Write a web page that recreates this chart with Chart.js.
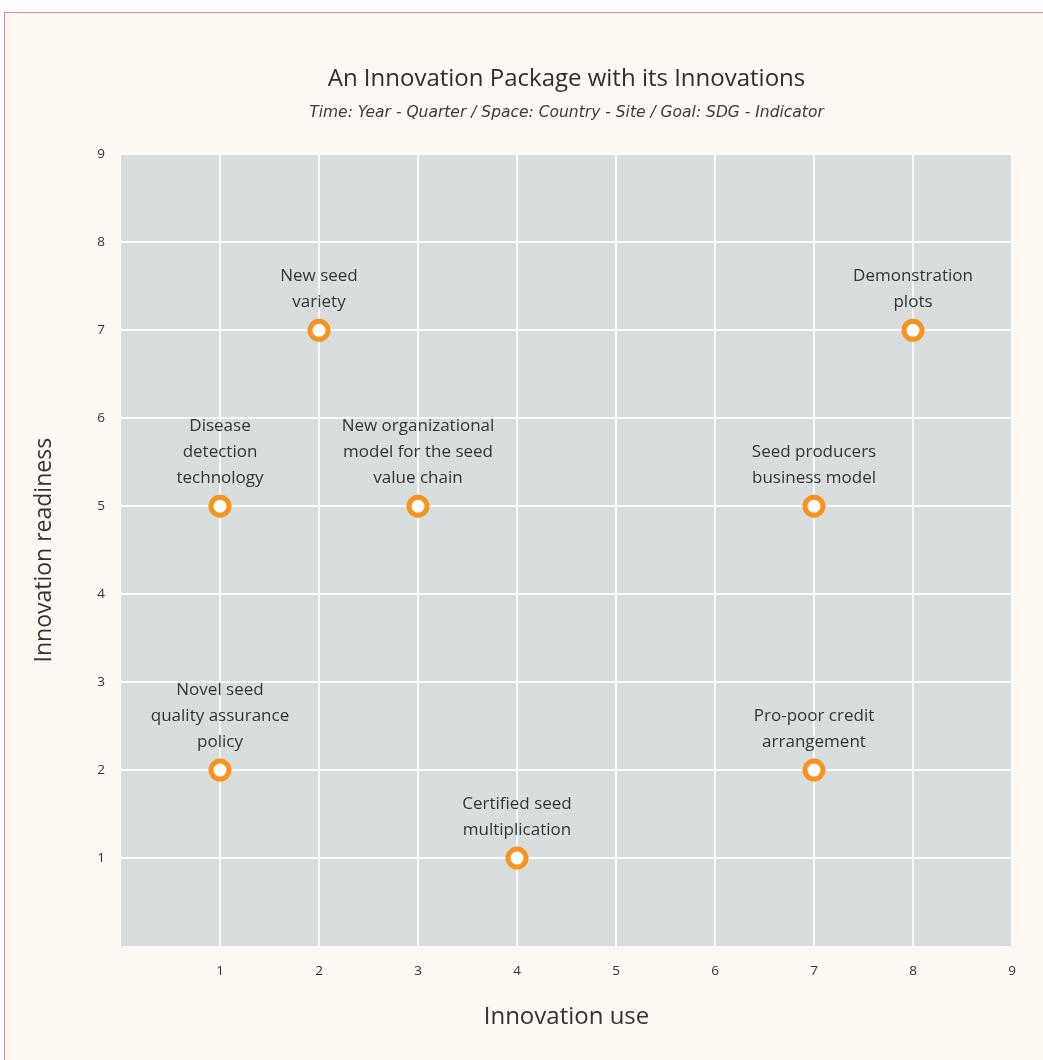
<!DOCTYPE html>
<html>
<head>
<meta charset="utf-8">
<script src="https://cdn.jsdelivr.net/npm/chart.js@4"></script>
<style>
  body { margin: 0; background: #ffffff; width: 1043px; height: 1060px; overflow: hidden; position: relative; }
  #paper { position: absolute; left: 4px; top: 12px; width: 1060px; height: 1070px; background: #fef9f2; border-left: 1px solid #e58a8f; border-top: 1px solid #e58a8f; }
  #chart { position: absolute; left: 0; top: 0; }
</style>
</head>
<body>
<div id="paper"></div>
<canvas id="chart" width="1043" height="1060"></canvas>
<script>
// Innovation use (x) and readiness (y) for each innovation
const innovationUse = [1, 2, 3, 8, 7, 1, 7, 4];
const innovationReadiness = [5, 7, 5, 7, 5, 2, 2, 1];
const innovationNames = [
  ['Disease', 'detection', 'technology'],
  ['New seed', 'variety'],
  ['New organizational', 'model for the seed', 'value chain'],
  ['Demonstration', 'plots'],
  ['Seed producers', 'business model'],
  ['Novel seed', 'quality assurance', 'policy'],
  ['Pro-poor credit', 'arrangement'],
  ['Certified seed', 'multiplication']
];
const axisTicks = [1, 2, 3, 4, 5, 6, 7, 8, 9];

const FONT = "'Open Sans', 'Noto Sans', sans-serif";

// grey panel behind the plot
const panelBg = {
  id: 'panelBg',
  beforeDraw(chart) {
    const { ctx, chartArea: a } = chart;
    ctx.save();
    ctx.fillStyle = '#d8dddd';
    ctx.fillRect(a.left, a.top, a.right - a.left, a.bottom - a.top);
    ctx.restore();
  }
};

// text labels above each point
const pointNames = {
  id: 'pointNames',
  afterDatasetsDraw(chart) {
    const ctx = chart.ctx;
    const meta = chart.getDatasetMeta(0);
    ctx.save();
    ctx.font = '17px ' + FONT;
    ctx.fillStyle = '#353535';
    ctx.textAlign = 'center';
    ctx.textBaseline = 'middle';
    meta.data.forEach((pt, i) => {
      const lines = innovationNames[i];
      lines.forEach((line, j) => {
        const y = pt.y - 28 - (lines.length - 1 - j) * 26;
        ctx.fillText(line, pt.x, y);
      });
    });
    ctx.restore();
  }
};

new Chart(document.getElementById('chart'), {
  type: 'scatter',
  data: {
    datasets: [{
      data: innovationUse.map((x, i) => ({ x: x, y: innovationReadiness[i] })),
      pointRadius: 9,
      pointHoverRadius: 9,
      pointBorderWidth: 5,
      pointBackgroundColor: '#ffffff',
      pointBorderColor: '#f7931e'
    }]
  },
  options: {
    responsive: false,
    animation: false,
    layout: { padding: { left: 0, right: 31, top: 0, bottom: 0 } },
    plugins: {
      legend: { display: false },
      tooltip: { enabled: false },
      title: {
        display: true,
        fullSize: false,
        text: 'An Innovation Package with its Innovations',
        color: '#2e2e2e',
        font: { family: FONT, size: 24, weight: 'normal' },
        padding: { top: 65, bottom: 10 }
      },
      subtitle: {
        display: true,
        fullSize: false,
        text: 'Time: Year - Quarter / Space: Country - Site / Goal: SDG - Indicator',
        color: '#3a3a3a',
        font: { family: "'DejaVu Sans', sans-serif", size: 15.5, style: 'italic' },
        padding: { top: 0, bottom: 32 }
      }
    },
    scales: {
      x: {
        type: 'linear',
        min: 0,
        max: 9,
        afterFit(s) { s.height = 114; },
        afterBuildTicks(s) { s.ticks = axisTicks.map(v => ({ value: v })); },
        grid: { color: 'rgba(255,255,255,0.85)', lineWidth: 2, drawTicks: false },
        border: { display: false },
        ticks: { color: '#333333', padding: 17, font: { family: FONT, size: 13.5 } },
        title: {
          display: true,
          text: 'Innovation use',
          color: '#333333',
          font: { family: FONT, size: 24 },
          padding: { top: 0, bottom: 28 }
        }
      },
      y: {
        type: 'linear',
        min: 0,
        max: 9,
        afterFit(s) { s.width = 121; },
        afterBuildTicks(s) { s.ticks = axisTicks.map(v => ({ value: v })); },
        grid: { color: 'rgba(255,255,255,0.85)', lineWidth: 2, drawTicks: false },
        border: { display: false },
        ticks: { color: '#333333', padding: 16, font: { family: FONT, size: 13.5 } },
        title: {
          display: true,
          text: 'Innovation readiness',
          color: '#333333',
          font: { family: FONT, size: 23 },
          padding: { top: 31, bottom: 0 }
        }
      }
    }
  },
  plugins: [panelBg, pointNames]
});
</script>
</body>
</html>
